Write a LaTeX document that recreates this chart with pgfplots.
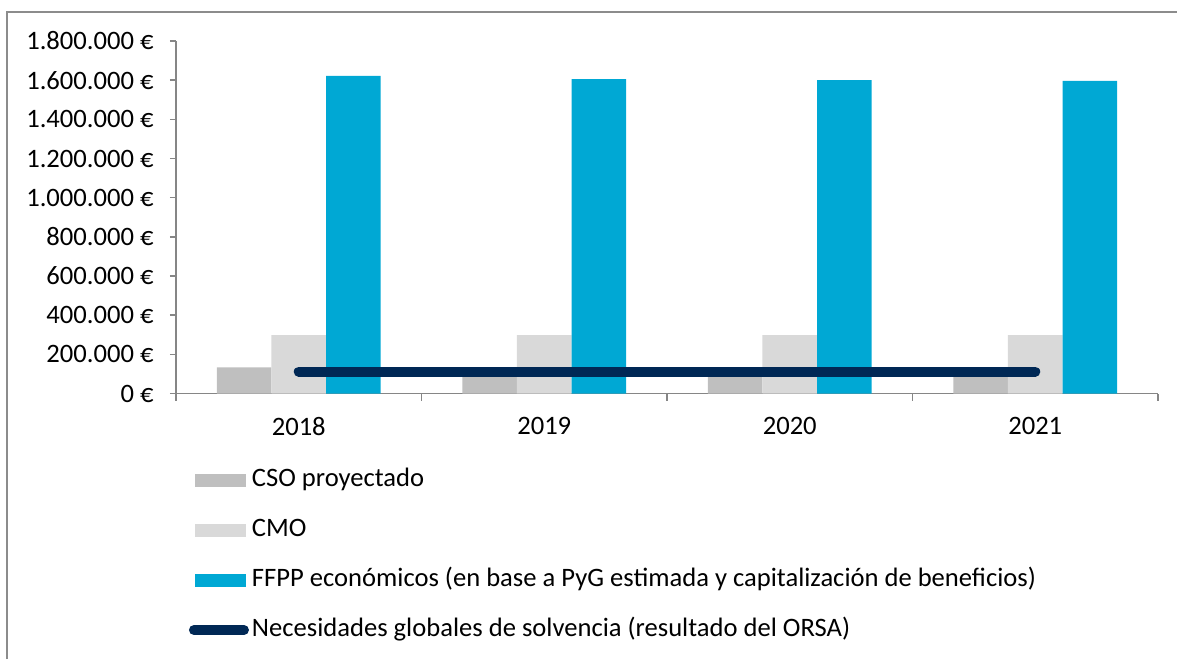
\documentclass[border=0pt]{standalone}
\usepackage{pgfplots}
\pgfplotsset{compat=1.18}
\usepackage{fontspec}
\setmainfont{Carlito}
\definecolor{csoc}{HTML}{BFBFBF}
\definecolor{cmoc}{HTML}{D9D9D9}
\definecolor{ffppc}{HTML}{00A8D4}
\definecolor{necc}{HTML}{002855}
\definecolor{axc}{HTML}{868686}
\definecolor{framec}{HTML}{8C8C8C}
\begin{document}
\begin{tikzpicture}
\begin{axis}[
  scale only axis,
  width=491pt, height=176.25pt,
  xmin=-0.5, xmax=3.5,
  ymin=0, ymax=1800000,
  scaled y ticks=false,
  clip=false,
  axis line style={axc, line width=0.7pt},
  axis x line*=bottom,
  axis y line*=left,
  tick align=outside,
  xtick={0,1,2,3},
  xticklabels={2018,2019,2020,2021},
  minor xtick={-0.5,0.5,1.5,2.5,3.5},
  major x tick style={draw=none},
  minor x tick style={axc, line width=0.7pt},
  minor tick length=3.5pt,
  major tick length=3pt,
  ytick={0,200000,400000,600000,800000,1000000,1200000,1400000,1600000,1800000},
  yticklabels={0 €,200.000 €,400.000 €,600.000 €,800.000 €,1.000.000 €,1.200.000 €,1.400.000 €,1.600.000 €,1.800.000 €},
  y tick style={axc, line width=0.7pt},
  ticklabel style={font=\fontsize{13.3pt}{15pt}\selectfont, text=black},
  yticklabel style={inner sep=0pt, xshift=-8pt},
  xticklabel style={inner sep=0pt, yshift=-8.5pt},
  legend cell align=left,
  legend style={
    draw=none, fill=none, inner sep=0pt, outer sep=0pt,
    at={(0.0132,-0.2114)}, anchor=north west,
    font=\fontsize{13.3pt}{15pt}\selectfont,
    row sep=13pt, column sep=1.5pt,
    nodes={inner sep=0pt, text height=9pt, text depth=3pt},
  },
]
\addplot[ybar, bar width=27.3pt, bar shift=-27.3pt, fill=csoc, draw=none,
  legend image code/.code={\path[draw=none,fill=none] (-2.5pt,-3.5pt) rectangle (26pt,3.5pt); \fill[csoc] (0.5pt,-3.25pt) rectangle (26pt,3.25pt);}]
  coordinates {(0,134000) (1,120000) (2,120000) (3,120000)};
\addlegendentry{CSO proyectado}
\addplot[ybar, bar width=27.3pt, bar shift=0pt, fill=cmoc, draw=none,
  legend image code/.code={\path[draw=none,fill=none] (-2.5pt,-3.5pt) rectangle (26pt,3.5pt); \fill[cmoc] (0.5pt,-3.25pt) rectangle (26pt,3.25pt);}]
  coordinates {(0,298000) (1,298000) (2,298000) (3,298000)};
\addlegendentry{CMO}
\addplot[ybar, bar width=27.3pt, bar shift=27.3pt, fill=ffppc, draw=none,
  legend image code/.code={\path[draw=none,fill=none] (-2.5pt,-3.5pt) rectangle (26pt,3.5pt); \fill[ffppc] (0.5pt,-3.25pt) rectangle (26pt,3.25pt);}]
  coordinates {(0,1622000) (1,1605000) (2,1600000) (3,1597000)};
\addlegendentry{FFPP económicos (en base a PyG estimada y capitalización de beneficios)}
\addplot[sharp plot, necc, line width=5pt, line cap=round, mark=none,
  legend image code/.code={\path[draw=none,fill=none] (-2.5pt,-3.5pt) rectangle (26pt,3.5pt); \draw[necc, line width=5pt, line cap=round] (0pt,0pt) -- (25pt,0pt);}]
  coordinates {(0,112000) (1,112000) (2,112000) (3,112000)};
\addlegendentry{Necesidades globales de solvencia (resultado del ORSA)}
\end{axis}
\draw[framec, line width=0.8pt] (-84.5pt,-132.75pt) -- (-84.5pt,190.75pt) -- (500.5pt,190.75pt);
\pgfresetboundingbox
\path (-88pt,-132.75pt) rectangle (500.5pt,196.75pt);
\end{tikzpicture}
\end{document}
